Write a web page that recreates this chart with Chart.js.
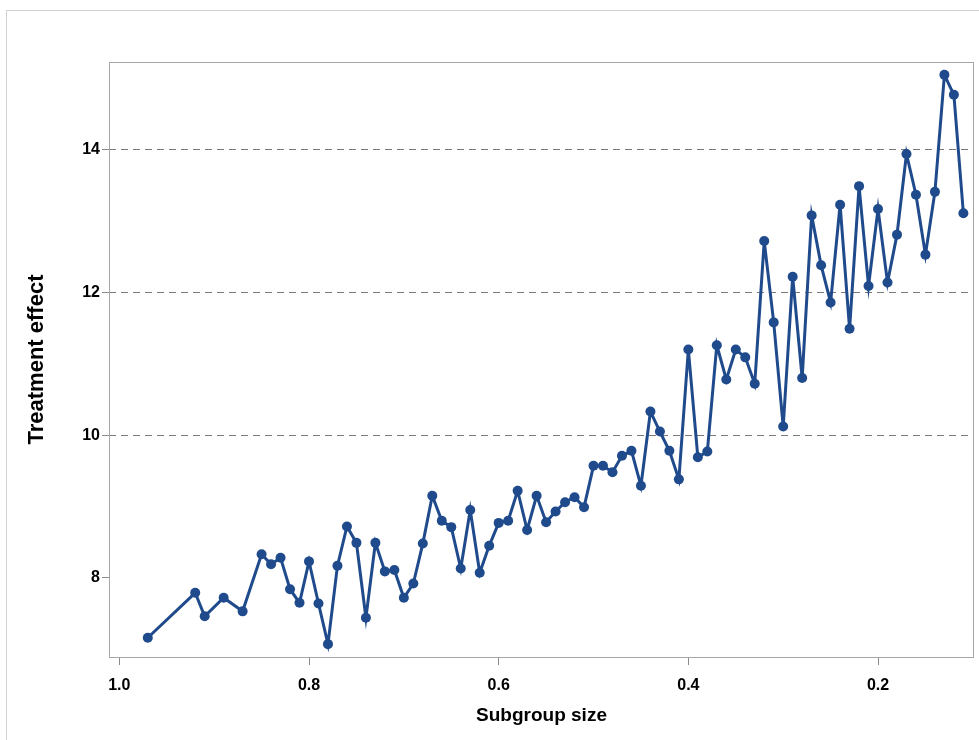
<!DOCTYPE html>
<html>
<head>
<meta charset="utf-8">
<script src="https://cdn.jsdelivr.net/npm/chart.js@4/dist/chart.umd.min.js"></script>
<style>
  html, body { margin: 0; padding: 0; background: #ffffff; }
  #frame { position: absolute; left: 6px; top: 10px; width: 990px; height: 760px; border: 1px solid #d2d2d2; box-sizing: border-box; }
  #wrap { position: absolute; left: 0; top: 0; width: 979px; height: 740px; }
</style>
</head>
<body>
<div id="frame"></div>
<div id="wrap"><canvas id="c"></canvas></div>
<script>
// Subgroup size (x) and treatment effect (y)
const subgroupSize = [
  0.97, 0.92, 0.91, 0.89, 0.87, 0.85, 0.84, 0.83, 0.82, 0.81,
  0.80, 0.79, 0.78, 0.77, 0.76, 0.75, 0.74, 0.73, 0.72, 0.71,
  0.70, 0.69, 0.68, 0.67, 0.66, 0.65, 0.64, 0.63, 0.62, 0.61,
  0.60, 0.59, 0.58, 0.57, 0.56, 0.55, 0.54, 0.53, 0.52, 0.51,
  0.50, 0.49, 0.48, 0.47, 0.46, 0.45, 0.44, 0.43, 0.42, 0.41,
  0.40, 0.39, 0.38, 0.37, 0.36, 0.35, 0.34, 0.33, 0.32, 0.31,
  0.30, 0.29, 0.28, 0.27, 0.26, 0.25, 0.24, 0.23, 0.22, 0.21,
  0.20, 0.19, 0.18, 0.17, 0.16, 0.15, 0.14, 0.13, 0.12, 0.11
];
const treatmentEffect = [
  7.16, 7.79, 7.46, 7.72, 7.53, 8.33, 8.19, 8.28, 7.84, 7.65,
  8.23, 7.64, 7.07, 8.17, 8.72, 8.49, 7.44, 8.49, 8.09, 8.11,
  7.72, 7.92, 8.48, 9.15, 8.80, 8.71, 8.13, 8.95, 8.07, 8.45,
  8.77, 8.80, 9.22, 8.67, 9.15, 8.78, 8.93, 9.06, 9.13, 8.99,
  9.57, 9.57, 9.48, 9.71, 9.78, 9.29, 10.33, 10.05, 9.78, 9.38,
  11.20, 9.69, 9.77, 11.26, 10.78, 11.20, 11.09, 10.72, 12.72, 11.58,
  10.12, 12.22, 10.80, 13.08, 12.38, 11.86, 13.23, 11.49, 13.49, 12.09,
  13.17, 12.14, 12.81, 13.94, 13.37, 12.53, 13.41, 15.05, 14.77, 13.11
];
const xTicks = [1.0, 0.8, 0.6, 0.4, 0.2];
const yTicks = [8, 10, 12, 14];
const refLines = [10, 12, 14];

const points = subgroupSize.map((x, i) => ({ x: x, y: treatmentEffect[i] }));

const framePlugin = {
  id: 'frameBox',
  afterDraw(chart) {
    const a = chart.chartArea, ctx = chart.ctx;
    ctx.save();
    ctx.strokeStyle = '#a6a6a6';
    ctx.lineWidth = 1;
    ctx.strokeRect(Math.round(a.left) + 0.5, Math.round(a.top) + 0.5,
                   Math.round(a.right - a.left) - 1, Math.round(a.bottom - a.top));
    ctx.restore();
  }
};

const lineColor = '#1f4a8c';
const fam = '"Liberation Sans", Arial, sans-serif';
const tickFont = { family: fam, size: 16, weight: 'bold' };

new Chart(document.getElementById('c'), {
  type: 'line',
  data: {
    datasets: [{
      data: points,
      borderColor: lineColor,
      backgroundColor: lineColor,
      borderWidth: 3,
      pointRadius: 5,
      pointBorderWidth: 0,
      pointBackgroundColor: lineColor,
      tension: 0
    }]
  },
  options: {
    responsive: true,
    maintainAspectRatio: false,
    animation: false,
    layout: { padding: { left: 0, top: 62, right: 5, bottom: 0 } },
    plugins: { legend: { display: false }, tooltip: { enabled: false } },
    scales: {
      x: {
        type: 'linear',
        reverse: true,
        min: 0.0988,
        max: 1.0109,
        afterBuildTicks: s => { s.ticks = xTicks.map(v => ({ value: v })); },
        afterFit: s => { s.height = 83; },
        border: { display: false },
        grid: { drawOnChartArea: false, drawTicks: true, tickLength: 8, tickColor: '#8a8a8a' },
        ticks: {
          font: tickFont, color: '#000', padding: 11, maxRotation: 0,
          callback: v => Number(v).toFixed(1)
        },
        title: {
          display: true, text: 'Subgroup size', color: '#000',
          font: { family: fam, size: 19, weight: 'bold' },
          padding: { top: 0, bottom: 13 }
        }
      },
      y: {
        type: 'linear',
        min: 6.89,
        max: 15.23,
        afterBuildTicks: s => { s.ticks = yTicks.map(v => ({ value: v })); },
        afterFit: s => { s.width = 109; },
        border: { display: false, dash: [7, 5] },
        grid: {
          drawOnChartArea: true,
          color: ctx => (ctx.tick && refLines.includes(ctx.tick.value)) ? '#7a7a7a' : 'rgba(0,0,0,0)',
          lineWidth: 1,
          drawTicks: true, tickLength: 7, tickColor: '#8a8a8a'
        },
        ticks: { font: tickFont, color: '#000', padding: 2 },
        title: {
          display: true, text: 'Treatment effect', color: '#000',
          font: { family: fam, size: 22, weight: 'bold' },
          padding: { top: 24, bottom: 0 }
        }
      }
    }
  },
  plugins: [framePlugin]
});
</script>
</body>
</html>
